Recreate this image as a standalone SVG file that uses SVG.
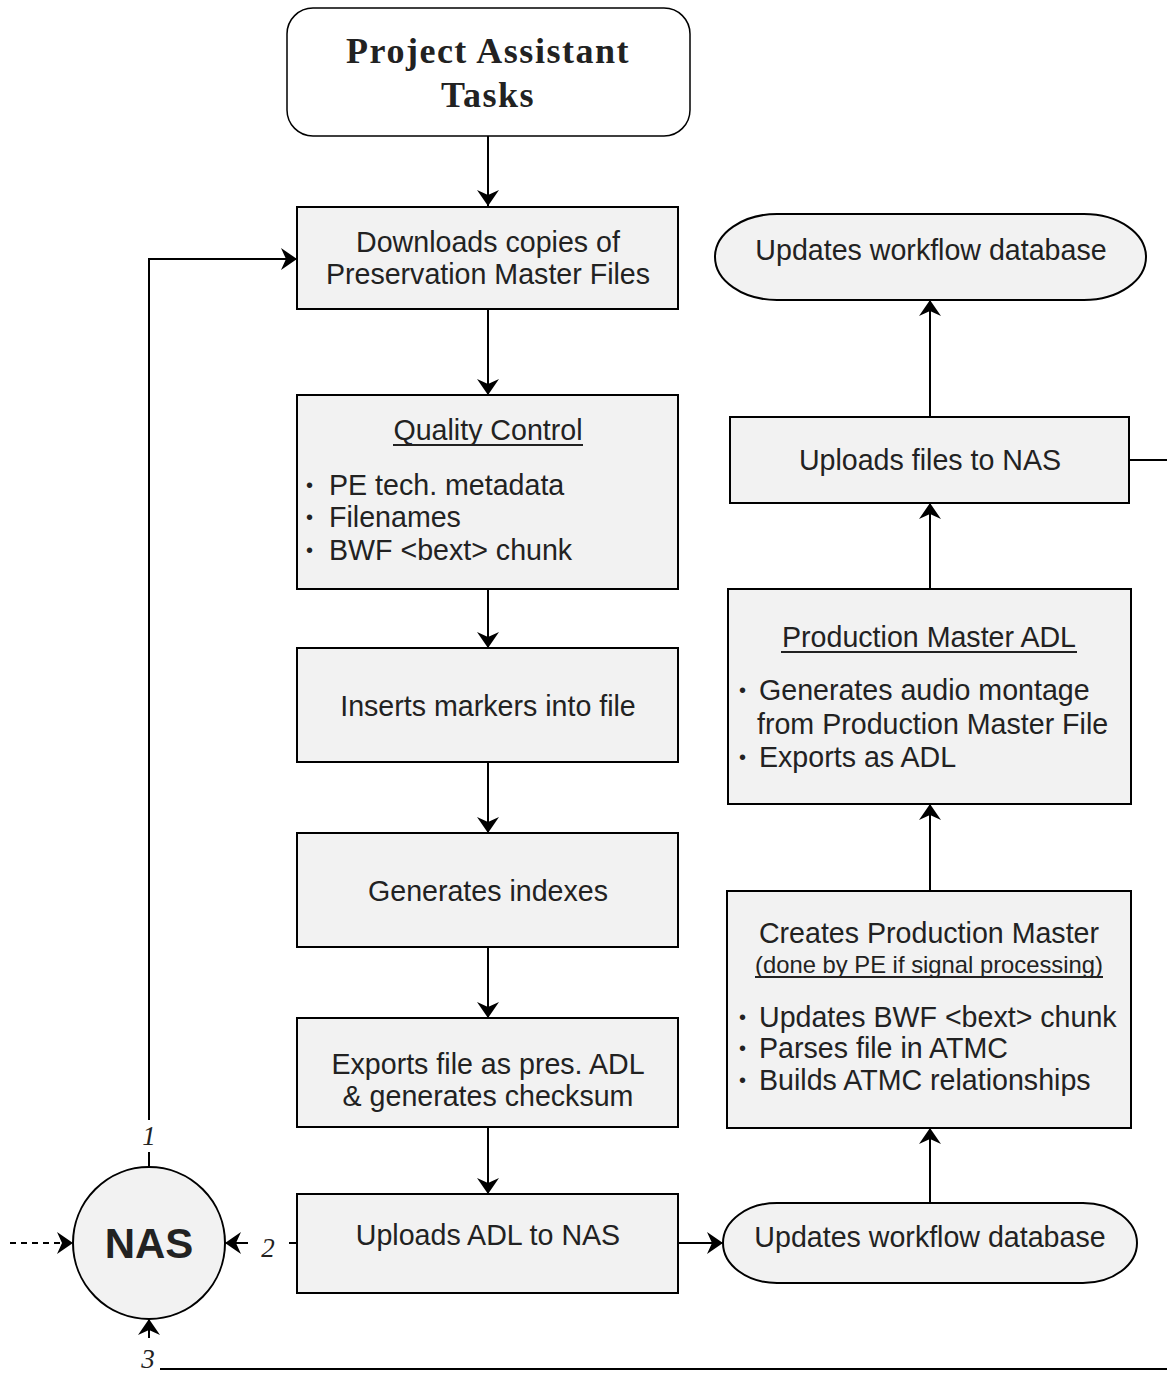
<svg xmlns="http://www.w3.org/2000/svg" width="1167" height="1374" viewBox="0 0 1167 1374">
  <defs>
    <marker id="arrow" viewBox="0 0 16 22" refX="16" refY="11" markerWidth="16" markerHeight="22" markerUnits="userSpaceOnUse" orient="auto">
      <path d="M0,0 L16,11 L0,22 L5,11 Z" fill="#000"/>
    </marker>
    <style>
      .box { fill: #f2f2f2; stroke: #000; stroke-width: 2; }
      .start { fill: #fff; stroke: #000; stroke-width: 1.5; }
      .t { font-family: "Liberation Sans", Arial, Helvetica, sans-serif; font-size: 28.6px; fill: #222; }
      .c { text-anchor: middle; }
      .ul { stroke: #222; stroke-width: 2; }
      .sub { font-size: 23.8px; }
      .bul { font-size: 20px; }
      .title { font-family: "Liberation Serif", "Times New Roman", serif; font-weight: bold; font-size: 36px; letter-spacing: 1.5px; fill: #222; text-anchor: middle; }
      .num { font-family: "Liberation Serif", "Times New Roman", serif; font-style: italic; font-size: 27px; fill: #222; text-anchor: middle; }
      .nas { font-family: "Liberation Sans", Arial, Helvetica, sans-serif; font-weight: bold; font-size: 42px; fill: #222; text-anchor: middle; }
      .ln { fill: none; stroke: #000; stroke-width: 2; }
      .arr { marker-end: url(#arrow); }
      .dash { stroke-dasharray: 6 5; }
    </style>
  </defs>

  <rect width="1167" height="1374" fill="#fff"/>

  <!-- connectors -->
  <g id="connectors">
    <line class="ln arr" x1="488" y1="136" x2="488" y2="206"/>
    <line class="ln arr" x1="488" y1="309" x2="488" y2="395"/>
    <line class="ln arr" x1="488" y1="589" x2="488" y2="648"/>
    <line class="ln arr" x1="488" y1="762" x2="488" y2="833"/>
    <line class="ln arr" x1="488" y1="947" x2="488" y2="1018"/>
    <line class="ln arr" x1="488" y1="1127" x2="488" y2="1194"/>
    <line class="ln arr" x1="678" y1="1243" x2="723" y2="1243"/>
    <line class="ln arr" x1="930" y1="1203" x2="930" y2="1128"/>
    <line class="ln arr" x1="930" y1="891" x2="930" y2="804"/>
    <line class="ln arr" x1="930" y1="589" x2="930" y2="503"/>
    <line class="ln arr" x1="930" y1="417" x2="930" y2="300"/>
    <line class="ln" x1="1129" y1="460" x2="1167" y2="460"/>
    <!-- 1: NAS back to download step -->
    <line class="ln" x1="149" y1="1166" x2="149" y2="1152"/>
    <polyline class="ln arr" points="149,1120 149,259 297,259"/>
    <!-- 2: upload into NAS -->
    <line class="ln" x1="297" y1="1243" x2="289" y2="1243"/>
    <line class="ln arr" x1="248" y1="1243" x2="225" y2="1243"/>
    <!-- incoming dashed -->
    <line class="ln dash arr" x1="10" y1="1243" x2="73" y2="1243"/>
    <!-- 3: return from right side -->
    <line class="ln arr" x1="149" y1="1338" x2="149" y2="1319"/>
    <line class="ln" x1="160" y1="1369" x2="1167" y2="1369"/>
    <text class="num" x="149" y="1145">1</text>
    <text class="num" x="268" y="1257">2</text>
    <text class="num" x="148" y="1368">3</text>
  </g>

  <g id="start">
    <rect class="start" x="287" y="8" width="403" height="128" rx="26"/>
    <text class="title" x="488" y="63">Project Assistant</text>
    <text class="title" x="488" y="107">Tasks</text>
  </g>

  <g id="download">
    <rect class="box" x="297" y="207" width="381" height="102"/>
    <text class="t c" x="488" y="252">Downloads copies of</text>
    <text class="t c" x="488" y="284">Preservation Master Files</text>
  </g>

  <g id="qc">
    <rect class="box" x="297" y="395" width="381" height="194"/>
    <text class="t c" x="488" y="440">Quality Control</text>
    <line class="ul" x1="393" y1="445" x2="583" y2="445"/>
    <text class="t bul" x="306" y="492">•</text><text class="t" x="329" y="495">PE tech. metadata</text>
    <text class="t bul" x="306" y="524">•</text><text class="t" x="329" y="527">Filenames</text>
    <text class="t bul" x="306" y="557">•</text><text class="t" x="329" y="560">BWF &lt;bext&gt; chunk</text>
  </g>

  <g id="markers">
    <rect class="box" x="297" y="648" width="381" height="114"/>
    <text class="t c" x="488" y="716">Inserts markers into file</text>
  </g>

  <g id="indexes">
    <rect class="box" x="297" y="833" width="381" height="114"/>
    <text class="t c" x="488" y="901">Generates indexes</text>
  </g>

  <g id="export">
    <rect class="box" x="297" y="1018" width="381" height="109"/>
    <text class="t c" x="488" y="1074">Exports file as pres. ADL</text>
    <text class="t c" x="488" y="1106">&amp; generates checksum</text>
  </g>

  <g id="upload-adl">
    <rect class="box" x="297" y="1194" width="381" height="99"/>
    <text class="t c" x="488" y="1245">Uploads ADL to NAS</text>
  </g>

  <g id="nas">
    <circle class="box" cx="149" cy="1243" r="76"/>
    <text class="nas" x="149" y="1258">NAS</text>
  </g>

  <g id="db-update-1">
    <path class="box" d="M777,1203 H1083 A54,40 0 0 1 1083,1283 H777 A54,40 0 0 1 777,1203 Z"/>
    <text class="t c" x="930" y="1247">Updates workflow database</text>
  </g>

  <g id="production-master">
    <rect class="box" x="727" y="891" width="404" height="237"/>
    <text class="t c" x="929" y="943">Creates Production Master</text>
    <text class="t c sub" x="929" y="973">(done by PE if signal processing)</text>
    <line class="ul" x1="755" y1="977" x2="1103" y2="977"/>
    <text class="t bul" x="739" y="1024">•</text><text class="t" x="759" y="1027">Updates BWF &lt;bext&gt; chunk</text>
    <text class="t bul" x="739" y="1055">•</text><text class="t" x="759" y="1058">Parses file in ATMC</text>
    <text class="t bul" x="739" y="1087">•</text><text class="t" x="759" y="1090">Builds ATMC relationships</text>
  </g>

  <g id="production-adl">
    <rect class="box" x="728" y="589" width="403" height="215"/>
    <text class="t c" x="929" y="647">Production Master ADL</text>
    <line class="ul" x1="781" y1="652" x2="1077" y2="652"/>
    <text class="t bul" x="739" y="697">•</text><text class="t" x="759" y="700">Generates audio montage</text>
    <text class="t" x="757" y="734">from Production Master File</text>
    <text class="t bul" x="739" y="764">•</text><text class="t" x="759" y="767">Exports as ADL</text>
  </g>

  <g id="upload-files">
    <rect class="box" x="730" y="417" width="399" height="86"/>
    <text class="t c" x="930" y="470">Uploads files to NAS</text>
  </g>

  <g id="db-update-2">
    <path class="box" d="M777,214 H1084 A62,43 0 0 1 1084,300 H777 A62,43 0 0 1 777,214 Z"/>
    <text class="t c" x="931" y="260">Updates workflow database</text>
  </g>
</svg>
